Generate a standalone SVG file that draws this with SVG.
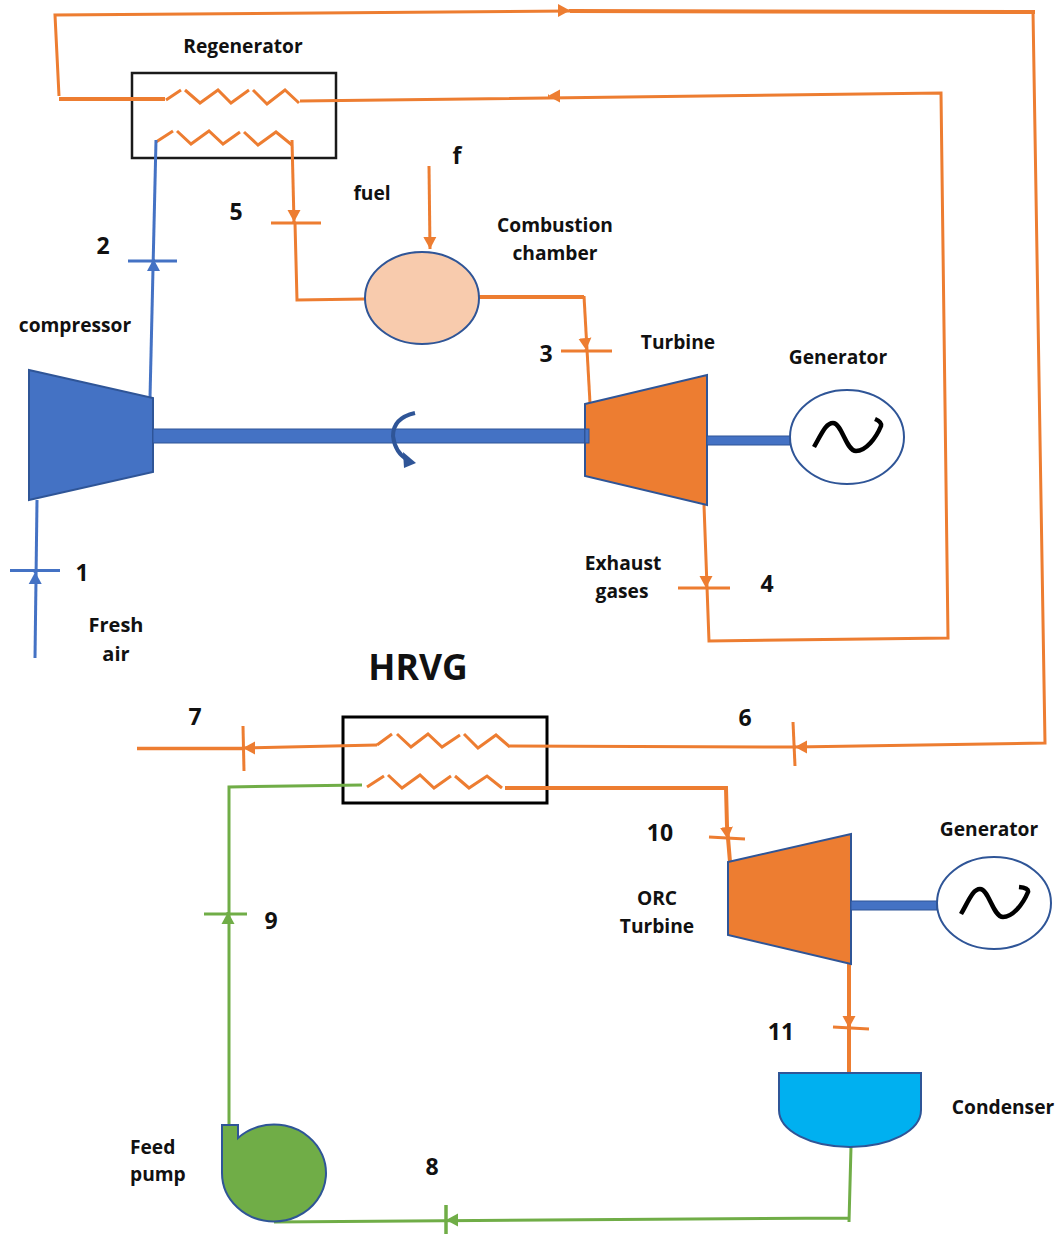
<svg xmlns="http://www.w3.org/2000/svg" width="1058" height="1234" viewBox="0 0 1058 1234">
<defs>
<style>
text{font-family:"Open Sans","Liberation Sans",sans-serif;font-weight:700;font-size:19.200px;fill:#111;text-anchor:middle}
.n{font-size:23px;font-weight:700}
.c{fill:none;stroke-linejoin:miter;stroke-linecap:butt}
.o{stroke:#ED7D31;stroke-width:3}
.ot{stroke:#ED7D31;stroke-width:4}
.b{stroke:#4472C4;stroke-width:3}
.g{stroke:#70AD47;stroke-width:3}
.box{fill:#fff;stroke:#1a1a1a;stroke-width:2.500}
.eq{stroke:#2F5597;stroke-width:2}
.gen{fill:#fff;stroke:#2F5597;stroke-width:2}
.sine{fill:none;stroke:#000;stroke-width:4.500}
.shaft{fill:#4472C4;stroke:#2F5597;stroke-width:1}
</style>
<marker id="ao" markerUnits="userSpaceOnUse" markerWidth="13" markerHeight="14" refX="12" refY="7" orient="auto"><path d="M0,0.500L12,7L0,13.500z" fill="#ED7D31"/></marker>
<marker id="ab" markerUnits="userSpaceOnUse" markerWidth="13" markerHeight="14" refX="12" refY="7" orient="auto"><path d="M0,0.500L12,7L0,13.500z" fill="#4472C4"/></marker>
<marker id="ag" markerUnits="userSpaceOnUse" markerWidth="13" markerHeight="14" refX="12" refY="7" orient="auto"><path d="M0,0.500L12,7L0,13.500z" fill="#70AD47"/></marker>
</defs>
<rect width="1058" height="1234" fill="#fff"/>

<g id="regenerator"><rect class="box" x="132" y="73" width="204" height="85"/>
<text x="243" y="53">Regenerator</text></g>
<g id="hrvg"><rect class="box" x="343" y="717" width="204" height="86" style="stroke-width:3;stroke:#000"/>
<text x="418" y="680" style="font-size:35.500px;font-weight:700">HRVG</text></g>

<g id="connectors">
<path class="c o" d="M166,100L181,90M185,90L200,103L218,90L231,103L249,90M253,90L267,104L285,90L299,103"/>
<path class="c o" d="M156,142L173,131M177,131L191,144L209,131L223,144L240,132M244,132L258,145L276,132L292,145"/>
<path class="c o" d="M377,745L392,734M397,734L411,747L428,734L442,747L460,735M464,734L478,748L496,735L510,747"/>
<path class="c o" d="M367,787L384,776M388,775L402,788L420,775L434,788L451,776M455,776L469,788L487,776L502,788"/>
<path class="c o" d="M570,11L55,15L59,96"/>
<path class="c ot" d="M1035,12L570,11"/>
<path class="c ot" d="M59,99L165,99"/>
<path class="c o" d="M569,10.500L570,10.500" marker-end="url(#ao)"/>
<path class="c o" d="M300,101L941,93L948,638L709,641L704,505"/>
<path class="c o" d="M549,96L548,96" marker-end="url(#ao)"/>
<path class="c o" d="M1033,11L1045,743L795,747L510,746"/>
<path class="c o" d="M796,747L795,747" marker-end="url(#ao)"/>
<path class="c o" d="M793,722L795,766"/>
<path class="c o" d="M377,745L243,748"/>
<path class="c o" d="M244,748L243,748" marker-end="url(#ao)"/>
<path class="c o" d="M243,726L244,771"/>
<path class="c ot" d="M137,748.500L243,748.500" style="stroke-width:3.500"/>
<path class="c ot" d="M505,788L726,788L727,826L728,838L730,862"/>
<path class="c o" d="M727.500,838L727.600,839" marker-end="url(#ao)"/>
<path class="c o" d="M709,837L745,839"/>
<path class="c ot" d="M849,964L849,1073"/>
<path class="c o" d="M849,1027L849,1028" marker-end="url(#ao)"/>
<path class="c o" d="M833,1027L869,1029"/>
<path class="c g" d="M851,1147L849,1222M849,1218L274,1222"/>
<path class="c g" d="M447,1220L446,1220" marker-end="url(#ag)"/>
<path class="c g" d="M446,1205L446,1234" style="stroke-width:3.500"/>
<path class="c g" d="M229,1124L229,787L362,785"/>
<path class="c g" d="M228,913L228,912" marker-end="url(#ag)"/>
<path class="c g" d="M204,914L247,914"/>
<path class="c b" d="M37,500L35,658"/>
<path class="c b" d="M35.200,573L35.200,572" marker-end="url(#ab)"/>
<path class="c b" d="M10,570.500L60,570.500"/>
<path class="c b" d="M150,398L156,140"/>
<path class="c b" d="M153.500,260L153.500,259" marker-end="url(#ab)"/>
<path class="c b" d="M128,261L177,261"/>
<path class="c o" d="M292,140L294,222"/>
<path class="c o" d="M294,221L294,222" marker-end="url(#ao)"/>
<path class="c o" d="M271,223L321,223"/>
<path class="c o" d="M295,223L297,300L365,299"/>
<path class="c o" d="M429,166L430,249" marker-end="url(#ao)"/>
<path class="c ot" d="M475,297L584,297"/>
<path class="c o" d="M584,296L590,403"/>
<path class="c o" d="M586,349L586.100,350" marker-end="url(#ao)"/>
<path class="c o" d="M561,351L612,351"/>
<path class="c o" d="M706,587L706,588" marker-end="url(#ao)"/>
<path class="c o" d="M678,588L730,588"/>
</g>

<g id="compressor"><path class="eq" fill="#4472C4" d="M29,370L153,398L153,472L29,500z"/>
<text x="75" y="332">compressor</text></g>
<g id="shaft"><rect class="shaft" x="153" y="429" width="436" height="14"/>
<path d="M415,413Q393,418 393,436Q395,453 408,460" fill="none" stroke="#2F5597" stroke-width="4"/>
<path d="M403,452L416,463L404,468z" fill="#2F5597"/></g>
<g id="combustion-chamber"><ellipse class="eq" fill="#F8CBAD" cx="422" cy="298" rx="57" ry="46"/>
<text x="555" y="232">Combustion</text><text x="555" y="260">chamber</text><text x="372" y="200">fuel</text></g>
<g id="turbine"><path class="eq" fill="#ED7D31" d="M585,404L707,375L707,505L585,476z"/>
<rect class="shaft" x="585" y="429" width="4" height="14"/>
<text x="678" y="349">Turbine</text></g>
<g id="generator-1"><rect class="shaft" x="707" y="436" width="83" height="9"/>
<ellipse class="gen" cx="847" cy="437" rx="57" ry="47"/>
<path class="sine" d="M814,447C822,433 826,423 833,423C842,423 846,451 856,451C866,451 876,438 881,426Q882,422 875,419"/>
<text x="838" y="364">Generator</text></g>
<g id="orc-turbine"><path class="eq" fill="#ED7D31" d="M728,862L851,834L851,964L728,935z"/>
<text x="657" y="905">ORC</text><text x="657" y="933">Turbine</text></g>
<g id="generator-2"><rect class="shaft" x="851" y="901" width="86" height="9"/>
<ellipse class="gen" cx="994" cy="903" rx="57" ry="46"/>
<path class="sine" d="M961,914C969,900 973,889 980,889C989,889 993,917 1003,917C1013,917 1023,904 1028,892Q1029,888 1019,887"/>
<text x="989" y="836">Generator</text></g>
<g id="condenser"><path class="eq" fill="#00B0F0" d="M779,1073L921,1073L921,1110C921,1131 889,1147 850,1147C811,1147 779,1131 779,1110z"/>
<text x="1003" y="1114">Condenser</text></g>
<g id="feed-pump"><path class="eq" fill="#70AD47" d="M222,1125L238,1125L238,1138A52,48.500 0 1 1 274,1221.500A52,48.500 0 0 1 222,1173z"/>
<text x="130" y="1154" style="text-anchor:start">Feed</text><text x="130" y="1181" style="text-anchor:start">pump</text></g>

<g id="labels">
<text class="n" x="457" y="164">f</text>
<text class="n" x="236" y="220">5</text>
<text class="n" x="103" y="254">2</text>
<text class="n" x="546" y="362">3</text>
<text class="n" x="82" y="581">1</text>
<text x="116" y="632" style="font-size:20px">Fresh</text><text x="116" y="661" style="font-size:20px">air</text>
<text x="623" y="570">Exhaust</text><text x="622" y="598">gases</text>
<text class="n" x="767" y="592">4</text>
<text class="n" x="195" y="725">7</text>
<text class="n" x="745" y="726">6</text>
<text class="n" x="660" y="841">10</text>
<text class="n" x="271" y="929">9</text>
<text class="n" x="781" y="1040">11</text>
<text class="n" x="432" y="1175">8</text>
</g>
</svg>
